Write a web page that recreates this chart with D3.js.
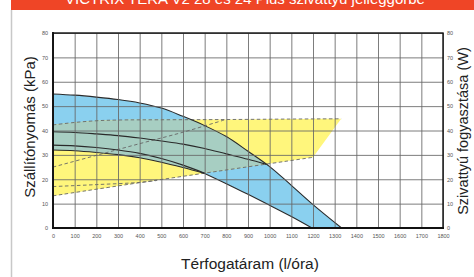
<!DOCTYPE html>
<html>
<head>
<meta charset="utf-8">
<script src="https://cdnjs.cloudflare.com/ajax/libs/d3/7.8.5/d3.min.js"></script>
<style>
  body { margin: 0; background: #fff; }
  svg { display: block; font-family: "Liberation Sans", Arial, sans-serif; }
</style>
</head>
<body>
<div id="body"></div>
<script>
// title + axis labels
var title = "VICTRIX TERA V2 28 és 24 Plus szivattyú jelleggörbe";
var xTitle = "Térfogatáram (l/óra)";
var yTitle = "Szállítónyomás (kPa)";
var y2Title = "Szivattyú fogyasztása (W)";

var xTicks = d3.range(0, 1801, 100);
var yTicks = d3.range(0, 81, 10);

// pressure curves (kPa) [flow l/h, value]
var pMax   = [[0,55],[100,54.5],[200,53.7],[300,52.7],[400,51.3],[500,49.2],[600,45.8],[700,42],[800,37.5],[900,31.5],[1000,25.2],[1100,17.5],[1200,9.6],[1332,0]];
var pMid   = [[0,39.5],[100,39.2],[200,38.6],[300,37.9],[400,36.9],[500,35.7],[600,34.4],[700,32.6],[800,30.4],[900,28.2],[985,26.1]];
var pLow1  = [[0,34],[100,33.7],[200,33],[300,32],[400,30.6],[500,28.5],[600,25.8],[700,22.5]];
var pLow2  = [[0,32],[100,31.7],[200,31],[300,30.1],[400,28.8],[500,27],[600,24.8],[700,22.4]];
var pTail  = [[700,22.4],[800,18.2],[900,13.8],[1000,9.3],[1100,4.7],[1195,0]];

// power curves (W)
var wMax   = [[0,42.3],[100,43.3],[200,44],[300,44.3],[500,44.4],[800,44.5],[1100,44.7],[1330,44.8]];
var wMid   = [[0,25],[200,29.8],[400,34.6],[600,39.3],[790,44.3]];
var wLow1  = [[0,17],[200,17.8],[400,18.7],[480,19.5]];
var wLow2  = [[0,13.2],[355,18],[692,22.4],[1200,29]];

var W = 474, H = 277;
var svg = d3.select("#body").append("svg").attr("width", W).attr("height", H);

var x = d3.scaleLinear().domain([0, 1800]).range([53, 443]);
var y = d3.scaleLinear().domain([0, 80]).range([228, 33]);

var line = d3.line()
    .x(function(d){ return x(d[0]); })
    .y(function(d){ return y(d[1]); })
    .curve(d3.curveCatmullRom.alpha(0.5));

function region(top, bottom){
    return line(top) + line(bottom.slice().reverse()).replace(/^M/, "L") + "Z";
}

// page frame
svg.append("line").attr("x1", 11.5).attr("x2", 11.5).attr("y1", 10).attr("y2", H)
    .attr("stroke", "#c8c8c8").attr("stroke-width", 1.5);
svg.append("rect").attr("x", 11).attr("y", 0).attr("width", W - 11).attr("height", 10)
    .attr("fill", "#ef4526");
svg.append("text").attr("x", 245).attr("y", 3.5).attr("text-anchor", "middle")
    .attr("fill", "#fff").attr("font-size", 15).text(title);

// fills
var lowBound = pLow2.concat(pTail.slice(1));
var bluePath = region(pMax, lowBound);
var yellowPath = region(wMax, wLow2);

svg.append("clipPath").attr("id", "blueClip").append("path").attr("d", bluePath);
svg.append("clipPath").attr("id", "plotClip").append("rect")
    .attr("x", 53).attr("y", 33).attr("width", 390).attr("height", 195);

var plot = svg.append("g").attr("clip-path", "url(#plotClip)");
plot.append("path").attr("d", bluePath).attr("fill", "#8ad0ef");
plot.append("path").attr("d", yellowPath).attr("fill", "#fff67c");
plot.append("path").attr("d", yellowPath).attr("fill", "#a7cec2").attr("clip-path", "url(#blueClip)");

// grid
svg.append("g").attr("transform", "translate(0,228)")
    .call(d3.axisBottom(x).tickValues(xTicks).tickSize(-195).tickFormat(""))
    .call(function(g){ g.select(".domain").remove(); g.selectAll("line").attr("stroke", "#666").attr("stroke-opacity", 0.85); });
svg.append("g").attr("transform", "translate(53,0)")
    .call(d3.axisLeft(y).tickValues(yTicks).tickSize(-390).tickFormat(""))
    .call(function(g){ g.select(".domain").remove(); g.selectAll("line").attr("stroke", "#666").attr("stroke-opacity", 0.85); });

// dashed power curves
[wMax, wMid, wLow1, wLow2].forEach(function(c){
    plot.append("path").attr("d", line(c)).attr("fill", "none")
        .attr("stroke", "#666").attr("stroke-width", 0.9).attr("stroke-dasharray", "3.5,2.5");
});

// solid pressure curves
[pMax, pMid, pLow1, pLow2, pTail].forEach(function(c){
    plot.append("path").attr("d", line(c)).attr("fill", "none")
        .attr("stroke", "#2a2a2a").attr("stroke-width", 1.1);
});

// frame
svg.append("rect").attr("x", 53).attr("y", 33).attr("width", 390).attr("height", 195)
    .attr("fill", "none").attr("stroke", "#111").attr("stroke-width", 1.4);
svg.append("line").attr("x1", 52).attr("x2", 444).attr("y1", 228).attr("y2", 228)
    .attr("stroke", "#111").attr("stroke-width", 2.2);
svg.append("line").attr("x1", 53).attr("x2", 53).attr("y1", 32).attr("y2", 229)
    .attr("stroke", "#111").attr("stroke-width", 1.8);

// tick labels
function tickStyle(g){
    g.select(".domain").remove();
    g.selectAll("line").remove();
    g.selectAll("text").attr("font-size", 5.5).attr("fill", "#555").attr("font-family", "Liberation Sans, Arial, sans-serif");
}
svg.append("g").attr("transform", "translate(0,228)")
    .call(d3.axisBottom(x).tickValues(xTicks).tickSize(0).tickPadding(6).tickFormat(d3.format("d")))
    .call(tickStyle);
svg.append("g").attr("transform", "translate(53,0)")
    .call(d3.axisLeft(y).tickValues(yTicks).tickSize(0).tickPadding(5).tickFormat(d3.format("d")))
    .call(tickStyle);
svg.append("g").attr("transform", "translate(443,0)")
    .call(d3.axisRight(y).tickValues(yTicks).tickSize(0).tickPadding(4).tickFormat(d3.format("d")))
    .call(tickStyle);

// axis titles
svg.append("text").attr("x", 250).attr("y", 269).attr("text-anchor", "middle")
    .attr("font-size", 15.5).attr("fill", "#222").text(xTitle);
svg.append("text").attr("transform", "translate(35,127) rotate(-90)").attr("text-anchor", "middle")
    .attr("font-size", 15).attr("fill", "#222").text(yTitle);
svg.append("text").attr("transform", "translate(468,131) rotate(-90)").attr("text-anchor", "middle")
    .attr("font-size", 14.5).attr("fill", "#222").text(y2Title);
</script>
</body>
</html>
